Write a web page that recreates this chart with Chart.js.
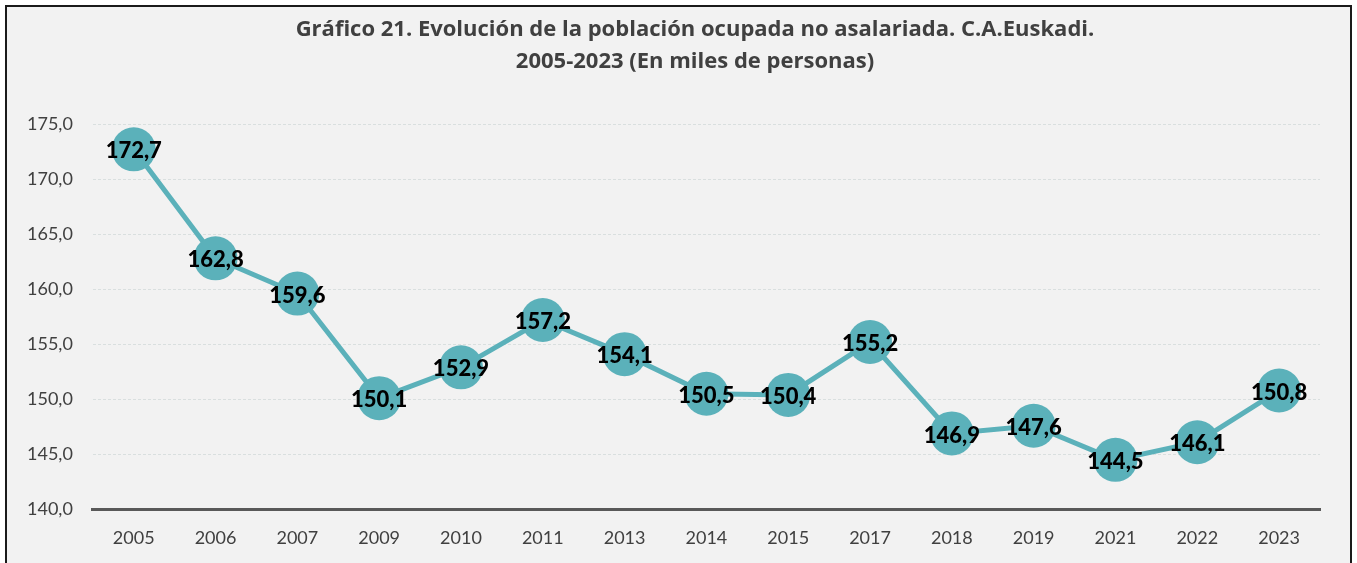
<!DOCTYPE html>
<html>
<head>
<meta charset="utf-8">
<script src="https://cdn.jsdelivr.net/npm/chart.js@4/dist/chart.umd.min.js"></script>
<style>
  body { margin: 0; background: #fff; overflow: hidden; }
  #wrap {
    position: absolute; left: 5px; top: 5px;
    width: 1343px; height: 570px;
    border: 2px solid #1a1a1a; border-bottom: none;
    background: #f2f2f2;
  }
  #title {
    position: absolute; left: 0; top: 4px; width: 1376px;
    text-align: center; color: #404040;
    font: bold 22px/32px "Open Sans", Lato, sans-serif;
  }
  canvas { position: absolute; left: 0; top: 0; }
</style>
</head>
<body>
<div id="wrap">
  <canvas id="chart" width="1343" height="556"></canvas>
  <div id="title">Gráfico 21. Evolución de la población ocupada no asalariada. C.A.Euskadi.<br>2005-2023 (En miles de personas)</div>
</div>
<script>
// Población ocupada no asalariada, C.A. Euskadi (miles de personas)
const years = ['2005', '2006', '2007', '2009', '2010', '2011', '2013', '2014', '2015', '2017', '2018', '2019', '2021', '2022', '2023'];
const ocupados = [172.7, 162.8, 159.6, 150.1, 152.9, 157.2, 154.1, 150.5, 150.4, 155.2, 146.9, 147.6, 144.5, 146.1, 150.8];
const yTicks = [140, 145, 150, 155, 160, 165, 170, 175];

const FONT = 'Lato, "Open Sans", sans-serif';
const fmt = v => v.toFixed(1).replace('.', ',');

const valueLabels = {
  id: 'valueLabels',
  afterDatasetsDraw(chart) {
    const ctx = chart.ctx;
    const meta = chart.getDatasetMeta(0);
    ctx.save();
    ctx.font = '900 22px ' + FONT;
    ctx.fillStyle = '#000';
    ctx.textAlign = 'center';
    ctx.textBaseline = 'middle';
    meta.data.forEach((pt, i) => {
      ctx.fillText(fmt(ocupados[i]), pt.x, pt.y + 2);
    });
    ctx.restore();
  }
};

new Chart(document.getElementById('chart'), {
  type: 'line',
  data: {
    labels: years,
    datasets: [{
      data: ocupados,
      borderColor: '#5bb1ba',
      borderWidth: 5,
      backgroundColor: '#5bb1ba',
      pointRadius: 22,
      pointBorderWidth: 0,
      pointHoverRadius: 22,
      tension: 0
    }]
  },
  options: {
    responsive: false,
    animation: false,
    layout: { padding: { left: 0, right: 30, top: 117, bottom: 4 } },
    scales: {
      x: {
        offset: true,
        grid: { display: false },
        border: { display: true, color: '#595959', width: 3 },
        ticks: { color: '#404040', font: { family: FONT, size: 18 }, padding: 10 }
      },
      y: {
        min: 140,
        max: 175,
        afterBuildTicks: axis => { axis.ticks = yTicks.map(v => ({ value: v })); },
        grid: { color: '#d9dfdf', drawTicks: false },
        border: { display: false, dash: [3, 2] },
        ticks: { color: '#404040', font: { family: FONT, size: 18 }, padding: 20, callback: v => fmt(v) }
      }
    },
    plugins: {
      legend: { display: false },
      tooltip: { enabled: false },
      title: { display: false }
    }
  },
  plugins: [valueLabels]
});
</script>
</body>
</html>
